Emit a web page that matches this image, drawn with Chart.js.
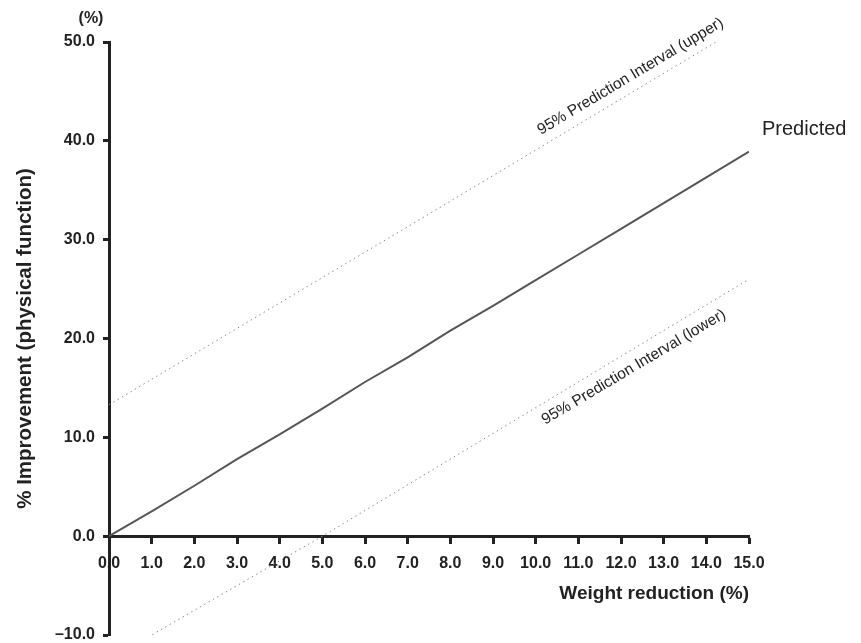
<!DOCTYPE html>
<html lang="en">
<head>
  <meta charset="UTF-8" />
  <title>Weight reduction vs improvement</title>
  <script src="https://cdn.jsdelivr.net/npm/chart.js"></script>
  <style>
    body { margin: 0; background: #fff; }
    .wrap { width: 861px; height: 643px; position: relative; }
  </style>
</head>
<body>
  <div class="wrap"><canvas id="chart"></canvas></div>

  <script>
    // values
    const xPredicted = [0, 1, 2, 3, 4, 5, 6, 7, 8, 9, 10, 11, 12, 13, 14, 15];
    const yPredicted = [0, 2.5, 5.1, 7.8, 10.3, 12.9, 15.6, 18.1, 20.8, 23.3, 25.9, 28.5, 31.1, 33.7, 36.3, 38.9];
    const xUpper = [0, 7.5, 15];
    const yUpper = [13.3, 32.6, 52.0];
    const xLower = [0, 5, 15];
    const yLower = [-12.5, 0, 26.0];
    const xTicks = [0, 1, 2, 3, 4, 5, 6, 7, 8, 9, 10, 11, 12, 13, 14, 15];
    const yTicks = [-10, 0, 10, 20, 30, 40, 50];

    const ink = '#222';
    const fontFamily = '"Liberation Sans", Arial, sans-serif';

    const toPoints = (xs, ys) => xs.map((x, i) => ({ x: x, y: ys[i] }));
    const fmt = v => v < 0 ? '\u2013' + Math.abs(v).toFixed(1) : v.toFixed(1);

    // text along the lines, "(%)" unit and "Predicted"
    const labelPlugin = {
      id: 'labels',
      afterDatasetsDraw(chart) {
        const ctx = chart.ctx;
        const yScale = chart.scales.y;

        function along(datasetIndex, t, offset, text) {
          const pts = chart.getDatasetMeta(datasetIndex).data;
          const a = pts[0], b = pts[pts.length - 1];
          const ang = Math.atan2(b.y - a.y, b.x - a.x);
          const px = a.x + (b.x - a.x) * t;
          const py = a.y + (b.y - a.y) * t;
          ctx.save();
          ctx.translate(px, py);
          ctx.rotate(ang);
          ctx.font = '15.5px ' + fontFamily;
          ctx.fillStyle = ink;
          ctx.textAlign = 'left';
          ctx.textBaseline = 'alphabetic';
          ctx.fillText(text, 0, offset);
          ctx.restore();
        }

        along(1, 0.683, -10, '95% Prediction Interval (upper)');
        along(2, 0.665, 21, '95% Prediction Interval (lower)');

        const pred = chart.getDatasetMeta(0).data;
        const last = pred[pred.length - 1];
        ctx.save();
        ctx.font = '20px ' + fontFamily;
        ctx.fillStyle = ink;
        ctx.textAlign = 'left';
        ctx.textBaseline = 'middle';
        ctx.fillText('Predicted', last.x + 13, last.y - 22);

        ctx.font = 'bold 16px ' + fontFamily;
        ctx.textAlign = 'center';
        ctx.fillText('(%)', yScale.right - 18, chart.chartArea.top - 23);
        ctx.restore();
      }
    };

    new Chart(document.getElementById('chart'), {
      type: 'line',
      data: {
        datasets: [
          {
            label: 'Predicted',
            data: toPoints(xPredicted, yPredicted),
            borderColor: '#555',
            borderWidth: 2,
            pointRadius: 0,
            tension: 0
          },
          {
            label: '95% Prediction Interval (upper)',
            data: toPoints(xUpper, yUpper),
            borderColor: '#8a8a8a',
            borderWidth: 1,
            borderDash: [1.5, 3.5],
            pointRadius: 0
          },
          {
            label: '95% Prediction Interval (lower)',
            data: toPoints(xLower, yLower),
            borderColor: '#8a8a8a',
            borderWidth: 1,
            borderDash: [1.5, 3.5],
            pointRadius: 0
          }
        ]
      },
      options: {
        responsive: true,
        maintainAspectRatio: false,
        animation: false,
        layout: { padding: { top: 42, right: 112, bottom: 8, left: 0 } },
        plugins: {
          legend: { display: false },
          tooltip: { enabled: false }
        },
        scales: {
          x: {
            type: 'linear',
            position: { y: 0 },
            min: 0,
            max: 15,
            afterBuildTicks: s => { s.ticks = xTicks.map(v => ({ value: v })); },
            ticks: {
              callback: v => fmt(v),
              color: ink,
              font: { family: fontFamily, size: 16, weight: 'bold' },
              padding: 12,
              maxRotation: 0,
              autoSkip: false
            },
            grid: { drawOnChartArea: false, drawTicks: true, tickLength: 6, tickWidth: 3, color: ink },
            border: { display: true, width: 3, color: ink },
            title: {
              display: true,
              text: 'Weight reduction (%)',
              align: 'end',
              color: ink,
              font: { family: fontFamily, size: 19, weight: 'bold' },
              padding: { top: -3, bottom: 0 }
            }
          },
          y: {
            type: 'linear',
            position: 'left',
            min: -10,
            max: 50,
            afterBuildTicks: s => { s.ticks = yTicks.map(v => ({ value: v })); },
            afterFit: s => { s.width = 109; s.paddingTop = 0; s.paddingBottom = 0; },
            ticks: {
              callback: v => fmt(v),
              color: ink,
              font: { family: fontFamily, size: 16, weight: 'bold' },
              padding: 8
            },
            grid: { drawOnChartArea: false, drawTicks: true, tickLength: 6, tickWidth: 3, color: ink },
            border: { display: true, width: 3, color: ink },
            title: {
              display: true,
              text: '% Improvement (physical function)',
              color: ink,
              font: { family: fontFamily, size: 20.5, weight: 'bold' },
              padding: { top: 13, bottom: 0 }
            }
          }
        }
      },
      plugins: [labelPlugin]
    });
  </script>
</body>
</html>
